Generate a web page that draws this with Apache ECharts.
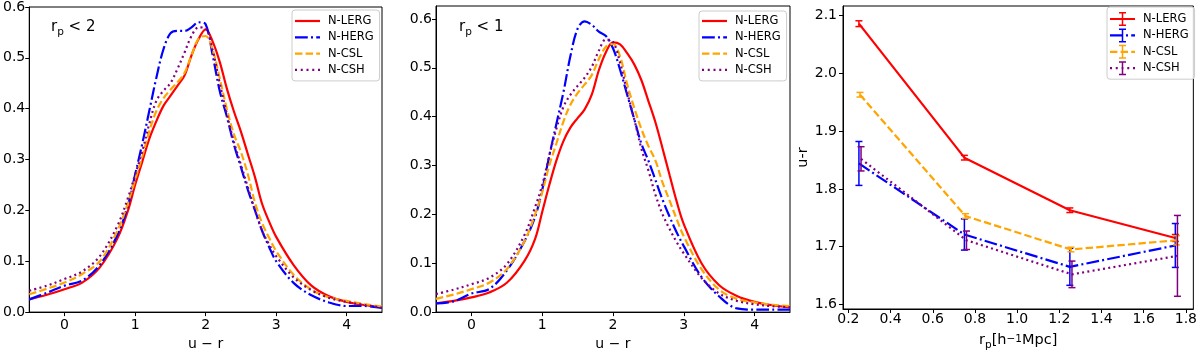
<!DOCTYPE html>
<html>
<head>
<meta charset="utf-8">
<script src="https://cdn.jsdelivr.net/npm/echarts@6/dist/echarts.min.js"></script>
<style>
  html, body { margin: 0; padding: 0; background: #fff; }
  #chart { width: 1200px; height: 356px; }
</style>
</head>
<body>
<div id="chart"></div>
<script>
// u - r sample points shared by the two density panels
const uGrid = [-0.5, -0.25, 0, 0.25, 0.5, 0.75, 0.9, 1.0, 1.1, 1.2, 1.3, 1.4, 1.5, 1.6, 1.7, 1.8, 1.9,
  2.0, 2.1, 2.2, 2.3, 2.4, 2.5, 2.6, 2.7, 2.8, 2.9, 3.0, 3.25, 3.5, 3.75, 4.0, 4.25, 4.5];

// panel 1: rp < 2
const lergRp2 = [0.025, 0.034, 0.045, 0.058, 0.088, 0.145, 0.20, 0.25, 0.295, 0.34, 0.375, 0.405, 0.425, 0.445, 0.465, 0.505, 0.537,
  0.556, 0.532, 0.492, 0.44, 0.395, 0.355, 0.31, 0.265, 0.213, 0.178, 0.148, 0.092, 0.052, 0.031, 0.020, 0.014, 0.009];
const hergRp2 = [0.025, 0.038, 0.052, 0.062, 0.093, 0.152, 0.21, 0.27, 0.33, 0.395, 0.46, 0.516, 0.548, 0.553, 0.553, 0.56, 0.57,
  0.566, 0.505, 0.435, 0.385, 0.33, 0.285, 0.24, 0.20, 0.16, 0.128, 0.10, 0.057, 0.033, 0.019, 0.012, 0.012, 0.008];
const cslRp2 = [0.035, 0.046, 0.058, 0.075, 0.10, 0.16, 0.215, 0.26, 0.305, 0.355, 0.395, 0.42, 0.437, 0.452, 0.47, 0.505, 0.538,
  0.543, 0.515, 0.46, 0.40, 0.35, 0.315, 0.27, 0.215, 0.175, 0.146, 0.12, 0.073, 0.044, 0.029, 0.022, 0.016, 0.011];
const cshRp2 = [0.042, 0.052, 0.065, 0.08, 0.11, 0.17, 0.225, 0.27, 0.315, 0.37, 0.415, 0.435, 0.45, 0.478, 0.51, 0.543, 0.56,
  0.558, 0.515, 0.45, 0.39, 0.335, 0.29, 0.245, 0.20, 0.16, 0.133, 0.11, 0.068, 0.043, 0.028, 0.020, 0.014, 0.009];

// panel 2: rp < 1
const lergRp1 = [0.018, 0.023, 0.03, 0.04, 0.06, 0.105, 0.15, 0.205, 0.26, 0.31, 0.35, 0.378, 0.397, 0.415, 0.445, 0.495, 0.532,
  0.552, 0.548, 0.53, 0.507, 0.475, 0.432, 0.388, 0.335, 0.28, 0.226, 0.18, 0.10, 0.055, 0.033, 0.021, 0.014, 0.0096];
const hergRp1 = [0.018, 0.022, 0.038, 0.047, 0.085, 0.145, 0.195, 0.25, 0.32, 0.385, 0.45, 0.525, 0.58, 0.595, 0.588, 0.574, 0.565,
  0.54, 0.496, 0.445, 0.395, 0.345, 0.31, 0.27, 0.23, 0.195, 0.163, 0.135, 0.072, 0.032, 0.0075, 0.005, 0.005, 0.005];
const cslRp1 = [0.027, 0.036, 0.047, 0.06, 0.088, 0.145, 0.20, 0.245, 0.30, 0.345, 0.39, 0.425, 0.448, 0.466, 0.485, 0.518, 0.543,
  0.549, 0.523, 0.466, 0.418, 0.375, 0.34, 0.31, 0.265, 0.228, 0.19, 0.155, 0.088, 0.046, 0.027, 0.02, 0.015, 0.012];
const cshRp1 = [0.037, 0.046, 0.057, 0.07, 0.098, 0.158, 0.215, 0.26, 0.32, 0.375, 0.42, 0.445, 0.463, 0.48, 0.502, 0.535, 0.558,
  0.553, 0.51, 0.45, 0.395, 0.335, 0.29, 0.24, 0.20, 0.17, 0.143, 0.12, 0.07, 0.038, 0.023, 0.016, 0.012, 0.01];

// panel 3: mean u-r per rp bin, with errors
const rpLerg = [0.25, 0.75, 1.25, 1.75];
const rpHerg = [0.25, 0.75, 1.25, 1.75];
const rpCsl = [0.255, 0.755, 1.255, 1.755];
const rpCsh = [0.26, 0.76, 1.26, 1.76];
const urLerg = [2.086, 1.854, 1.763, 1.715];
const urHerg = [1.844, 1.721, 1.665, 1.702];
const urCsl = [1.963, 1.753, 1.695, 1.711];
const urCsh = [1.852, 1.711, 1.652, 1.684];
const errLerg = [0.005, 0.004, 0.004, 0.006];
const errHerg = [0.038, 0.027, 0.032, 0.038];
const errCsl = [0.004, 0.004, 0.004, 0.008];
const errCsh = [0.021, 0.016, 0.023, 0.070];

const names = ['N-LERG', 'N-HERG', 'N-CSL', 'N-CSH'];
const uTicks = [0, 1, 2, 3, 4];
const densTicks = [0, 0.1, 0.2, 0.3, 0.4, 0.5, 0.6];
const rpTicks = [0.2, 0.4, 0.6, 0.8, 1.0, 1.2, 1.4, 1.6, 1.8];
const urTicks = [1.6, 1.7, 1.8, 1.9, 2.0, 2.1];

const FONT = 'DejaVu Sans';
const LW = 2.2;
const colors = ['#ff0000', '#0000ff', '#ffa500', '#800080'];
const dashes = ['solid', [12.8, 3.2, 2, 3.2], [7.4, 3.2], [2, 3.3]];
// legend handle segments, 25px wide
const handleSegs = [
  [[0, 25]],
  [[0, 12.8], [16, 18], [21.2, 25]],
  [[0, 7.4], [10.6, 18], [21.2, 25]],
  [[0, 2], [5.75, 7.75], [11.5, 13.5], [17.25, 19.25], [23, 25]]
];

function linePath(segs, y0, y1) {
  return segs.map(s => `M${s[0]} ${y0}H${s[1]}V${y1}H${s[0]}Z`).join(' ');
}
const errGlyph = ' M11.75 0H13.25V14H11.75Z M9 0H16V1.5H9Z M9 12.5H16V14H9Z';

function legendBox(left, top, padding, withErr) {
  return {
    orient: 'vertical', left: left, top: top, padding: padding,
    itemWidth: 25, itemHeight: withErr ? 14 : 2.2, itemGap: withErr ? 2.4 : 2.3,
    backgroundColor: 'rgba(255,255,255,0.8)', borderColor: '#cccccc', borderWidth: 1, borderRadius: 3,
    selectedMode: false,
    textStyle: { color: '#000', fontFamily: FONT, fontSize: 11.5, lineHeight: 14, padding: [0, 0, 0, 3] },
    data: names.map((n, i) => ({
      name: n,
      icon: 'path://' + (withErr ? linePath(handleSegs[i], 5.9, 8.1) + errGlyph : linePath(handleSegs[i], 0, 2.2)),
      itemStyle: { color: colors[i], borderWidth: 0, opacity: 1 }
    }))
  };
}

function axisBase(fontSize, margin) {
  return {
    type: 'value',
    axisLine: { show: true, onZero: false, lineStyle: { color: '#000', width: 1 } },
    axisTick: { show: true, length: 4, lineStyle: { color: '#000', width: 1 } },
    splitLine: { show: false },
    axisLabel: { color: '#000', fontFamily: FONT, fontSize: fontSize, margin: margin },
    nameTextStyle: { color: '#000', fontFamily: FONT, fontSize: fontSize }
  };
}

function uAxis(grid) {
  const ax = axisBase(14, 6);
  return Object.assign(ax, {
    gridIndex: grid, min: -0.5, max: 4.5,
    name: 'u − r', nameLocation: 'middle', nameGap: 22,
    axisTick: Object.assign(ax.axisTick, { customValues: uTicks }),
    axisLabel: Object.assign(ax.axisLabel, { customValues: uTicks, formatter: v => String(v) })
  });
}
function densAxis(grid, max) {
  const ax = axisBase(14, 4);
  return Object.assign(ax, {
    gridIndex: grid, min: 0, max: max,
    axisTick: Object.assign(ax.axisTick, { customValues: densTicks }),
    axisLabel: Object.assign(ax.axisLabel, { customValues: densTicks, formatter: v => v.toFixed(1) })
  });
}

const series = [];
function kde(i, ys, g) {
  series.push({
    type: 'line', name: names[i], xAxisIndex: g, yAxisIndex: g,
    data: uGrid.map((x, k) => [x, ys[k]]),
    symbol: 'none', smooth: 0.35, silent: true, z: 2 + i,
    lineStyle: { color: colors[i], width: LW, type: dashes[i] },
    itemStyle: { color: colors[i] }
  });
}
[lergRp2, hergRp2, cslRp2, cshRp2].forEach((ys, i) => kde(i, ys, 0));
[lergRp1, hergRp1, cslRp1, cshRp1].forEach((ys, i) => kde(i, ys, 1));

const rpSets = [rpLerg, rpHerg, rpCsl, rpCsh];
const urSets = [urLerg, urHerg, urCsl, urCsh];
const errSets = [errLerg, errHerg, errCsl, errCsh];
rpSets.forEach((xs, i) => {
  series.push({
    type: 'line', name: names[i], xAxisIndex: 2, yAxisIndex: 2,
    data: xs.map((x, k) => [x, urSets[i][k]]),
    symbol: 'none', silent: true, z: 2 + 2 * i,
    lineStyle: { color: colors[i], width: LW, type: dashes[i] },
    itemStyle: { color: colors[i] }
  });
  series.push({
    type: 'custom', name: names[i], xAxisIndex: 2, yAxisIndex: 2, silent: true, z: 3 + 2 * i,
    data: xs.map((x, k) => [x, urSets[i][k], errSets[i][k]]),
    encode: { x: 0, y: 1 },
    renderItem: (params, api) => {
      const x = api.value(0), y = api.value(1), e = api.value(2);
      const top = api.coord([x, y + e]);
      const bot = api.coord([x, y - e]);
      const st = { stroke: colors[i], lineWidth: 1.5 };
      return {
        type: 'group', children: [
          { type: 'line', shape: { x1: top[0], y1: top[1], x2: bot[0], y2: bot[1] }, style: st },
          { type: 'line', shape: { x1: top[0] - 3.5, y1: top[1], x2: top[0] + 3.5, y2: top[1] }, style: st },
          { type: 'line', shape: { x1: bot[0] - 3.5, y1: bot[1], x2: bot[0] + 3.5, y2: bot[1] }, style: st }
        ]
      };
    }
  });
});

const rpAxis = axisBase(14, 3);
Object.assign(rpAxis, {
  gridIndex: 2, min: 0.1745, max: 1.8355,
  name: '{t|r}{sub|p}{t|[h}{sup|−1}{t|Mpc]}', nameLocation: 'middle', nameGap: 25,
  nameTextStyle: {
    color: '#000', fontFamily: FONT, fontSize: 14,
    rich: {
      t: { fontFamily: FONT, fontSize: 14.5, color: '#000', verticalAlign: 'bottom', lineHeight: 17, padding: [0, 0, 3, 0] },
      sub: { fontFamily: FONT, fontSize: 10.5, color: '#000', verticalAlign: 'bottom', lineHeight: 13 },
      sup: { fontFamily: FONT, fontSize: 10.5, color: '#000', verticalAlign: 'top', lineHeight: 13 }
    }
  }
});
rpAxis.axisTick.customValues = rpTicks;
rpAxis.axisLabel.customValues = rpTicks;
rpAxis.axisLabel.formatter = v => v.toFixed(1);

const urAxis = axisBase(14, 6);
Object.assign(urAxis, {
  gridIndex: 2, min: 1.592, max: 2.1166,
  name: 'u-r', nameLocation: 'middle', nameGap: 29,
  nameTextStyle: { color: '#000', fontFamily: FONT, fontSize: 14.5 }
});
urAxis.axisTick.customValues = urTicks;
urAxis.axisLabel.customValues = urTicks;
urAxis.axisLabel.formatter = v => v.toFixed(1);

const subRich = {
  t: { fontFamily: FONT, fontSize: 15, fontWeight: 'normal', color: '#000', verticalAlign: 'bottom', lineHeight: 18, padding: [0, 0, 3, 0] },
  sub: { fontFamily: FONT, fontSize: 10.5, fontWeight: 'normal', color: '#000', verticalAlign: 'bottom', lineHeight: 14 }
};

const gridStyle = { show: true, borderColor: '#000', borderWidth: 1, backgroundColor: 'transparent' };

const chart = echarts.init(document.getElementById('chart'), null, { renderer: 'canvas' });
chart.setOption({
  animation: false,
  backgroundColor: '#fff',
  title: [
    { left: 46, top: 15, text: '{t|r}{sub|p}{t| < 2}', textStyle: { fontWeight: 'normal', rich: subRich } },
    { left: 454, top: 15, text: '{t|r}{sub|p}{t| < 1}', textStyle: { fontWeight: 'normal', rich: subRich } }
  ],
  grid: [
    Object.assign({ left: 29, top: 6, width: 353, height: 307 }, gridStyle),
    Object.assign({ left: 436, top: 6, width: 354, height: 307 }, gridStyle),
    Object.assign({ left: 843, top: 6, width: 354, height: 307 }, gridStyle)
  ],
  legend: [
    legendBox(292, 10, [4, 6, 4, 3], false),
    legendBox(699, 11, [3, 6, 4, 3], false),
    legendBox(1107, 7, [5, 6, 4, 3], true)
  ],
  xAxis: [uAxis(0), uAxis(1), rpAxis],
  yAxis: [densAxis(0, 0.6), densAxis(1, 0.6265), urAxis],
  series: series
});
</script>
</body>
</html>
